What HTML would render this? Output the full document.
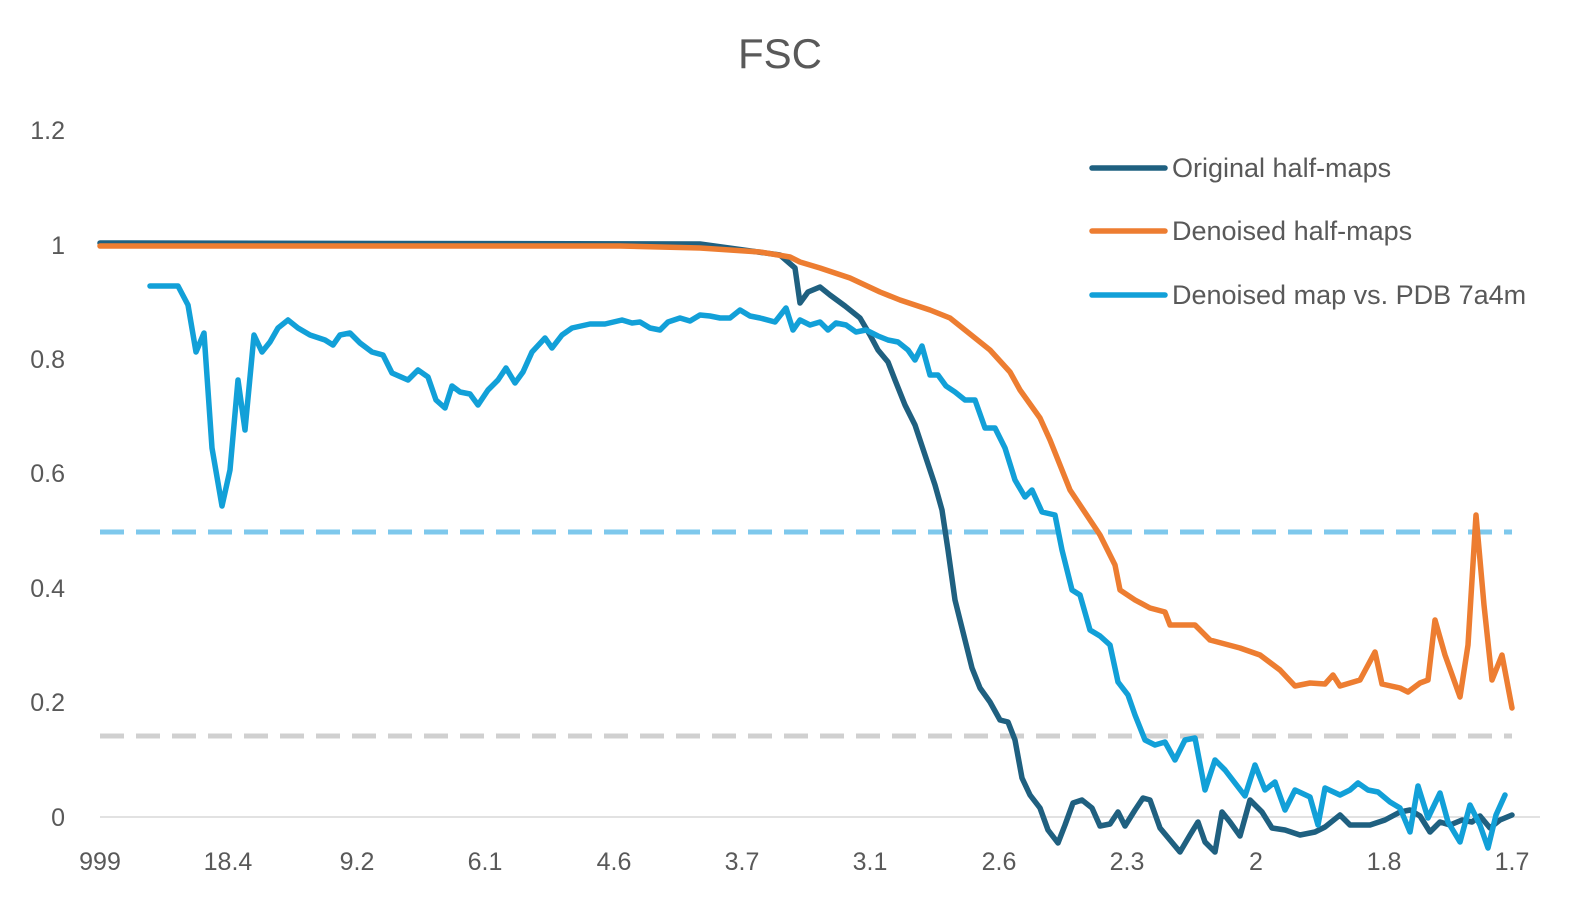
<!DOCTYPE html>
<html><head><meta charset="utf-8"><style>
body{margin:0;background:#fff;}
svg text{font-family:"Liberation Sans",sans-serif;fill:#595959;}
</style></head><body>
<svg width="1588" height="918" viewBox="0 0 1588 918">
<text x="780" y="68" font-size="42" text-anchor="middle">FSC</text>
<g font-size="25" text-anchor="end">
<text x="65" y="139">1.2</text><text x="65" y="254">1</text><text x="65" y="368">0.8</text>
<text x="65" y="482">0.6</text><text x="65" y="597">0.4</text><text x="65" y="711">0.2</text><text x="65" y="826">0</text>
</g>
<g font-size="25" text-anchor="middle">
<text x="100" y="870">999</text><text x="228" y="870">18.4</text><text x="357" y="870">9.2</text><text x="485" y="870">6.1</text>
<text x="614" y="870">4.6</text><text x="742" y="870">3.7</text><text x="870" y="870">3.1</text><text x="999" y="870">2.6</text>
<text x="1127" y="870">2.3</text><text x="1256" y="870">2</text><text x="1384" y="870">1.8</text><text x="1512" y="870">1.7</text>
</g>
<line x1="100" y1="817" x2="1540" y2="817" stroke="#d9d9d9" stroke-width="1.5"/>
<line x1="100" y1="532" x2="1512" y2="532" stroke="#7ec8ec" stroke-width="5" stroke-dasharray="24,12"/>
<line x1="100" y1="736" x2="1512" y2="736" stroke="#d0d0d0" stroke-width="5" stroke-dasharray="24,12"/>
<g fill="none" stroke-width="5.5" stroke-linejoin="round" stroke-linecap="round">
<polyline stroke="#1f6080" points="100,243 700,244 780,255 795,268 800,303 808,292 820,287 830,295 845,306 860,318 870,335 878,350 888,362 895,380 905,405 915,425 925,455 935,485 942,510 948,550 955,600 965,640 972,668 980,688 990,702 1000,720 1008,722 1015,740 1022,778 1030,795 1040,808 1048,830 1058,843 1065,825 1073,803 1082,800 1092,808 1100,826 1110,824 1118,812 1125,826 1135,810 1143,798 1150,800 1160,828 1170,840 1180,852 1190,835 1198,822 1205,842 1215,852 1222,812 1230,822 1240,836 1250,800 1262,812 1272,828 1285,830 1300,835 1315,832 1325,827 1340,815 1350,825 1370,825 1385,820 1400,812 1410,810 1420,816 1430,832 1440,822 1450,825 1462,820 1472,822 1480,816 1490,828 1500,820 1512,815"/>
<polyline stroke="#ed7d31" points="100,246 620,246 700,248 760,252 790,257 800,262 820,268 850,278 880,292 900,300 930,310 950,318 970,334 990,350 1010,372 1020,390 1040,418 1050,440 1060,465 1070,490 1080,505 1100,535 1115,565 1120,590 1135,600 1150,608 1165,612 1170,625 1195,625 1210,640 1240,648 1260,655 1280,670 1295,686 1310,683 1325,684 1333,675 1340,686 1360,680 1375,652 1382,684 1400,688 1408,692 1420,683 1428,680 1435,620 1445,655 1460,697 1468,645 1476,515 1484,605 1492,680 1502,655 1512,708"/>
<polyline stroke="#12a0d8" points="150,286 178,286 188,305 196,352 204,333 212,448 222,506 230,470 238,380 245,430 254,335 262,352 270,342 278,328 288,320 298,328 310,335 325,340 333,345 340,335 350,333 360,343 372,352 383,355 392,373 408,380 418,370 428,377 436,400 445,408 452,386 460,392 470,394 478,405 488,390 498,380 506,368 515,383 523,372 532,352 545,338 552,348 562,335 572,328 590,324 605,324 622,320 632,323 640,322 650,328 660,330 668,322 680,318 690,321 700,315 710,316 720,318 730,318 740,310 750,316 760,318 775,322 786,308 793,330 800,320 810,325 820,322 828,330 836,323 846,325 856,332 866,330 878,336 888,340 898,342 908,350 915,360 922,346 930,375 938,375 946,386 955,392 965,400 975,400 985,428 995,428 1005,448 1015,480 1025,497 1032,490 1042,512 1055,515 1062,550 1072,590 1080,595 1090,630 1100,636 1110,645 1118,682 1128,695 1135,715 1145,740 1155,745 1165,742 1175,760 1185,740 1195,738 1205,790 1215,760 1225,770 1235,783 1245,796 1255,765 1265,790 1275,782 1285,810 1295,790 1310,797 1318,825 1325,788 1340,795 1350,790 1358,783 1368,790 1378,792 1390,802 1400,808 1410,832 1418,786 1428,818 1440,793 1448,822 1460,842 1470,805 1480,825 1488,848 1496,815 1505,795"/>
<line x1="1092" y1="168" x2="1165" y2="168" stroke="#1f6080"/>
<line x1="1092" y1="231" x2="1165" y2="231" stroke="#ed7d31"/>
<line x1="1092" y1="295" x2="1165" y2="295" stroke="#12a0d8"/>
</g>
<g font-size="27">
<text x="1172" y="177">Original half-maps</text>
<text x="1172" y="240">Denoised half-maps</text>
<text x="1172" y="304">Denoised map vs. PDB 7a4m</text>
</g>
</svg>
</body></html>
